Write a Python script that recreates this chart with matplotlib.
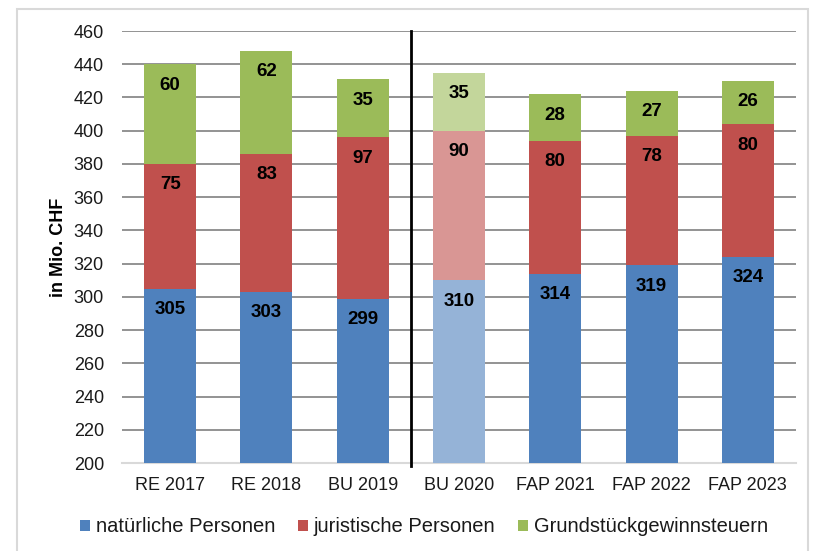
import matplotlib
matplotlib.use("Agg")
import matplotlib.pyplot as plt
from matplotlib.patches import Rectangle, Patch

plt.rcParams['font.family'] = ['Liberation Sans', 'DejaVu Sans']

categories = ["RE 2017", "RE 2018", "BU 2019", "BU 2020", "FAP 2021", "FAP 2022", "FAP 2023"]
natuerliche = [305, 303, 299, 310, 314, 319, 324]
juristische = [75, 83, 97, 90, 80, 78, 80]
grundstueck = [60, 62, 35, 35, 28, 27, 26]
series_names = ["natürliche Personen", "juristische Personen", "Grundstückgewinnsteuern"]
yticks = list(range(200, 461, 20))

colors = ["#4F81BD", "#C0504D", "#9BBB59"]
light = ["#95B3D7", "#D99694", "#C3D69B"]
highlight_idx = 3

W, H = 819, 551
fig = plt.figure(figsize=(W/100, H/100), dpi=100)
fig.patches.append(Rectangle((17/W, -0.01), (808-17)/W, (H-9)/H + 0.01, transform=fig.transFigure,
                             fill=False, edgecolor="#D9D9D9", linewidth=1.5))

ax = fig.add_axes([122/W, 1-463/H, (796-122)/W, (463-31)/H])
x = list(range(len(categories)))
width = 0.54
data = [natuerliche, juristische, grundstueck]
for si, vals in enumerate(data):
    cols = [light[si] if i == highlight_idx else colors[si] for i in x]
    heights = []
    bases = []
    for i in x:
        base = 200 if si == 0 else sum(d[i] for d in data[:si])
        bases.append(base)
        heights.append(vals[i] if si > 0 else vals[i] - 200)
    ax.bar(x, heights, width=width, bottom=bases, color=cols, zorder=3, linewidth=0)
    for i in x:
        top = bases[i] + heights[i]
        ax.annotate(str(vals[i]), (i, top), xytext=(0, -21), textcoords="offset pixels",
                    ha="center", va="center", fontsize=13.5, fontweight="bold", color="black", zorder=4)

ax.set_ylim(200, 460)
ax.set_xlim(-0.5, len(categories) - 0.5)
ax.set_yticks(yticks)
ax.set_xticks(x)
ax.set_xticklabels(categories)
ax.yaxis.grid(True, color="#808080", linewidth=1.2, zorder=0)
ax.set_axisbelow(True)
for s in ["top", "right", "left"]:
    ax.spines[s].set_visible(False)
ax.spines["bottom"].set_color("#D9D9D9")
ax.spines["bottom"].set_linewidth(1.5)
ax.spines["bottom"].set_zorder(2)
ax.tick_params(axis="both", length=0, labelsize=13, colors="#1a1a1a")
ax.tick_params(axis="y", pad=13)
ax.tick_params(axis="x", pad=10)
ax.set_ylabel("in Mio. CHF", fontsize=13, fontweight="bold", labelpad=5)

ax.plot([2.5, 2.5], [198, 460], color="black", linewidth=2, zorder=5, clip_on=False)

handles = [Patch(facecolor=c, edgecolor="none") for c in colors]
fig.legend(handles, series_names, loc="center", bbox_to_anchor=(424/W, 1-527/H), ncol=3,
           frameon=False, fontsize=14.5, handlelength=0.5, handleheight=0.5, handletextpad=0.3,
           columnspacing=1.1, labelcolor="#1a1a1a")

fig.savefig("out.png", dpi=100)
